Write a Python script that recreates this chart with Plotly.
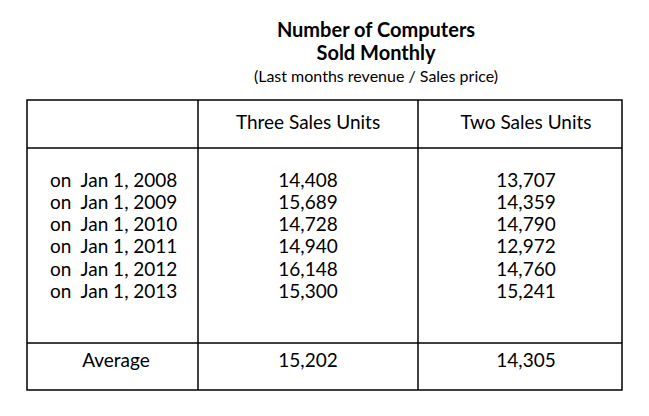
import plotly.graph_objects as go

years = ['2008', '2009', '2010', '2011', '2012', '2013']
three_units = [14408, 15689, 14728, 14940, 16148, 15300]
two_units = [13707, 14359, 14790, 12972, 14760, 15241]
columns = ['Three Sales Units', 'Two Sales Units']
three_avg = 15202
two_avg = 14305

font = 'Lato'
row_y = [180 + i * 22.2 for i in range(len(years))]
col_x = [308, 526]

fig = go.Figure()

# row labels
fig.add_trace(go.Scatter(x=[50] * len(years), y=row_y, mode='text',
                         text=['on  Jan 1, ' + y for y in years], textposition='middle right',
                         textfont=dict(family=font, size=19, color='black')))
# values
for cx, vals, avg in zip(col_x, [three_units, two_units], [three_avg, two_avg]):
    fig.add_trace(go.Scatter(x=[cx] * len(vals), y=row_y, mode='text',
                             text=[f'{v:,}' for v in vals],
                             textfont=dict(family=font, size=19, color='black')))
    fig.add_trace(go.Scatter(x=[cx], y=[360], mode='text', text=[f'{avg:,}'],
                             textfont=dict(family=font, size=19, color='black')))

# headers
fig.add_trace(go.Scatter(x=col_x, y=[122, 122], mode='text', text=columns,
                         textfont=dict(family=font, size=19, color='black')))
fig.add_trace(go.Scatter(x=[116], y=[360], mode='text', text=['Average'],
                         textfont=dict(family=font, size=19, color='black')))

# title
fig.add_trace(go.Scatter(x=[376, 376], y=[30, 53], mode='text',
                         text=['<b>Number of Computers</b>', '<b>Sold Monthly</b>'],
                         textfont=dict(family=font, size=20, color='black')))
fig.add_trace(go.Scatter(x=[376], y=[76], mode='text',
                         text=['(Last months revenue / Sales price)'],
                         textfont=dict(family=font, size=16, color='black')))

line = dict(color='black', width=1.5)
fig.add_shape(type='rect', x0=27, x1=622, y0=98, y1=388, line=line)
for yy in [146, 341]:
    fig.add_shape(type='line', x0=27, x1=622, y0=yy, y1=yy, line=line)
for xx in [198, 418]:
    fig.add_shape(type='line', x0=xx, x1=xx, y0=98, y1=388, line=line)

# page has a small body offset, so shift the visible window to compensate
fig.update_layout(width=649, height=416, margin=dict(l=0, r=0, t=0, b=0),
                  showlegend=False, plot_bgcolor='white', paper_bgcolor='white',
                  xaxis=dict(range=[8, 657], visible=False, fixedrange=True),
                  yaxis=dict(range=[422, 6], visible=False, fixedrange=True))
fig.write_html("out.html")
